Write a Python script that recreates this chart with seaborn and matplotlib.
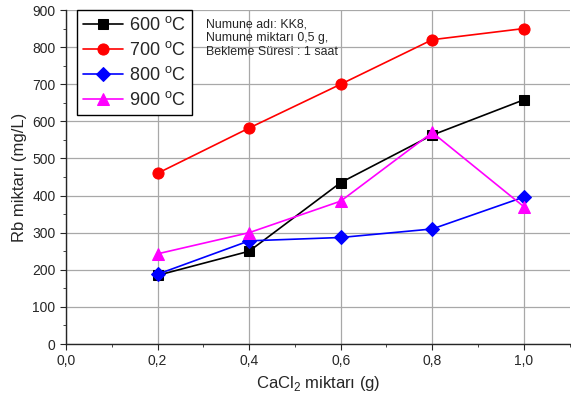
import matplotlib
matplotlib.use("Agg")
import matplotlib.pyplot as plt
import matplotlib.ticker as mticker
import pandas as pd
import seaborn as sns

cacl2 = [0.2, 0.4, 0.6, 0.8, 1.0]
rb_600 = [185, 250, 435, 563, 658]
rb_700 = [460, 582, 700, 820, 850]
rb_800 = [188, 278, 287, 310, 396]
rb_900 = [243, 300, 385, 570, 370]
labels = ["600 $^\\mathregular{o}$C", "700 $^\\mathregular{o}$C",
          "800 $^\\mathregular{o}$C", "900 $^\\mathregular{o}$C"]
colors = ["black", "red", "blue", "magenta"]
markers = ["s", "o", "D", "^"]

sns.set_style("ticks")
plt.rcParams["font.family"] = ["Liberation Sans", "DejaVu Sans"]
plt.rcParams["mathtext.fontset"] = "custom"
plt.rcParams["mathtext.rm"] = "Liberation Sans"

df = pd.DataFrame({
    "x": cacl2 * 4,
    "y": rb_600 + rb_700 + rb_800 + rb_900,
    "seri": sum([[lab] * len(cacl2) for lab in labels], []),
})

fig = plt.figure(figsize=(5.71, 4.0), dpi=100)
ax = fig.add_axes([0.1156, 0.14, 0.882, 0.835])

for lab, col, mk, sz in zip(labels, colors, markers, [7, 8, 7, 9]):
    sub = df[df["seri"] == lab]
    sns.lineplot(data=sub, x="x", y="y", ax=ax, color=col, marker=mk,
                 markersize=sz, markeredgecolor=col, linewidth=1.2, label=lab)

ax.set_xlim(0, 1.1)
ax.set_ylim(0, 900)
ax.xaxis.set_major_locator(mticker.MultipleLocator(0.2))
ax.xaxis.set_minor_locator(mticker.MultipleLocator(0.1))
ax.yaxis.set_major_locator(mticker.MultipleLocator(100))
ax.yaxis.set_minor_locator(mticker.MultipleLocator(50))
ax.xaxis.set_major_formatter(mticker.FuncFormatter(lambda v, p: f"{v:.1f}".replace(".", ",")))
ax.grid(True, which="major", color="#a8a8a8", linewidth=0.9)
ax.set_axisbelow(True)
ax.tick_params(axis="both", which="major", labelsize=10, direction="out", length=4)
ax.tick_params(axis="both", which="minor", direction="out", length=2.5)
for s in ["top", "right"]:
    ax.spines[s].set_visible(False)
for s in ["left", "bottom"]:
    ax.spines[s].set_linewidth(1.0)

ax.set_xlabel("CaCl$_\\mathregular{2}$ miktarı (g)", fontsize=12)
ax.set_ylabel("Rb miktarı (mg/L)", fontsize=12)

leg = ax.legend(loc="upper left", bbox_to_anchor=(0.022, 1.0), fontsize=13,
                frameon=True, fancybox=False, edgecolor="black", framealpha=1,
                handlelength=2.2, handletextpad=0.3, labelspacing=0.38,
                borderpad=0.35, borderaxespad=0.0)
leg.get_frame().set_linewidth(1.0)

ax.text(0.277, 0.975, "Numune adı: KK8,\nNumune miktarı 0,5 g,\nBekleme Süresi : 1 saat",
        transform=ax.transAxes, fontsize=8.9, va="top", ha="left", linespacing=1.2)

fig.savefig("out.png", dpi=100)
